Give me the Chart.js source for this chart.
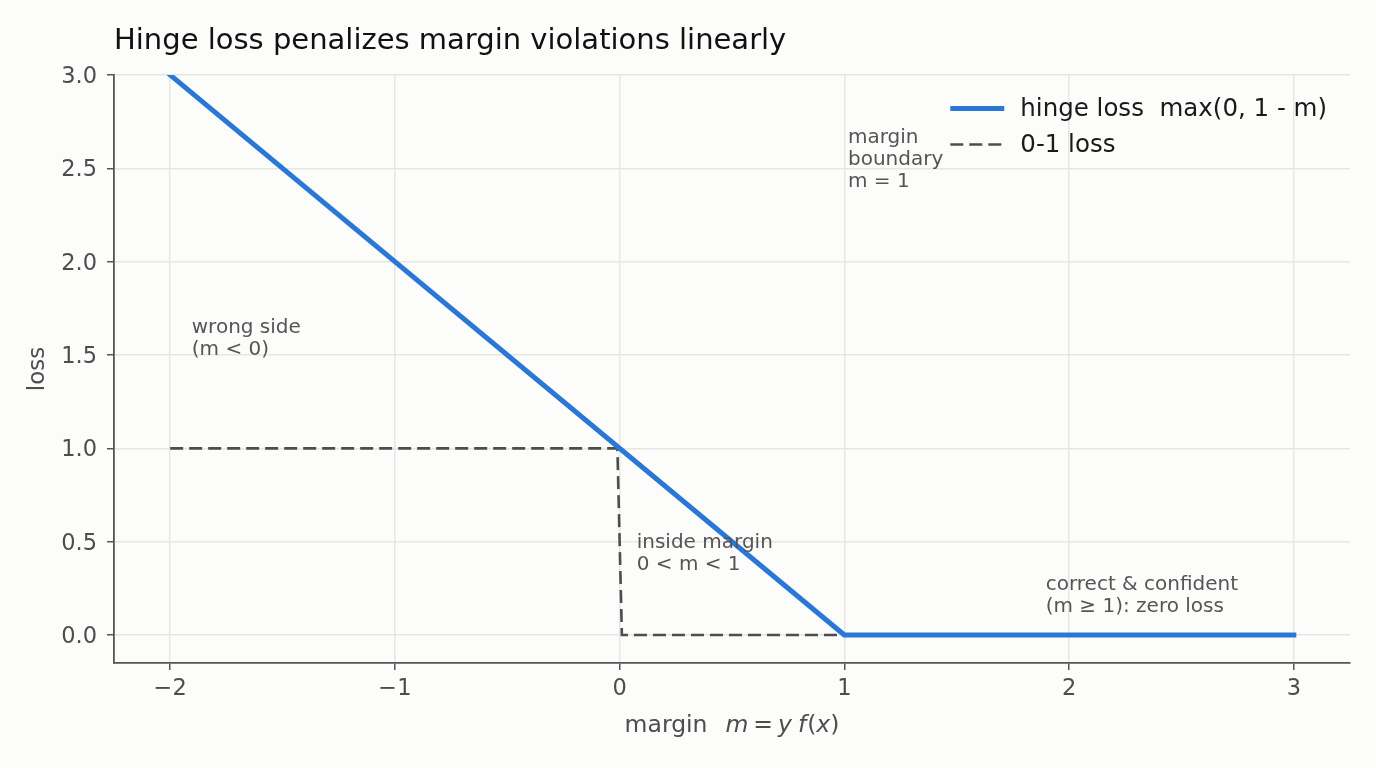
<!DOCTYPE html>
<html><head><meta charset="utf-8">
<script src="https://cdn.jsdelivr.net/npm/chart.js@4/dist/chart.umd.min.js"></script>
<style>html,body{margin:0;padding:0;background:#fcfcfb;}canvas{display:block}</style>
</head><body>
<canvas id="c" width="1376" height="768"></canvas>
<script>
const chartTitle = 'Hinge loss penalizes margin violations linearly';
const seriesLabels = ['hinge loss  max(0, 1 - m)', '0-1 loss'];
const hingeMargin = [-2, 1, 3];
const hingeLoss = [3, 0, 0];
const zeroOneMargin = [-2, -0.01, 0.01, 3];
const zeroOneLoss = [1, 1, 0, 0];
const xTickValues = [-2, -1, 0, 1, 2, 3];
const xTickLabels = ['\u22122', '\u22121', '0', '1', '2', '3'];
const yTickValues = [0, 0.5, 1, 1.5, 2, 2.5, 3];
const yTickLabels = ['0.0', '0.5', '1.0', '1.5', '2.0', '2.5', '3.0'];
const xAxisTitle = 'margin';
const yAxisTitle = 'loss';
const noteX = [-1.904, 0.076, 1.896, 1.016];
const noteY = [1.472, 0.32, 0.097, 2.372];
const noteText = [
  ['wrong side', '(m < 0)'],
  ['inside margin', '0 < m < 1'],
  ['correct & confident', '(m \u2265 1): zero loss'],
  ['margin', 'boundary', 'm = 1']
];

const FONT = "'DejaVu Sans', sans-serif";

const pts = (xs, ys) => xs.map((x, i) => ({x: x, y: ys[i]}));

const overlay = {
  id: 'overlay',
  beforeDraw(chart) {
    const c = chart.ctx;
    c.save();
    c.fillStyle = '#fcfcfb';
    c.fillRect(0, 0, chart.width, chart.height);
    c.restore();
  },
  afterDraw(chart) {
    const c = chart.ctx;
    const a = chart.chartArea;
    const xs = chart.scales.x, ys = chart.scales.y;
    c.save();
    // title
    c.fillStyle = '#111111';
    c.font = '29px ' + FONT;
    c.textAlign = 'left';
    c.textBaseline = 'alphabetic';
    c.fillText(chartTitle, a.left, 49);

    // y axis title
    c.save();
    c.fillStyle = '#4d4d4d';
    c.font = '23px ' + FONT;
    c.translate(44, (a.top + a.bottom) / 2);
    c.rotate(-Math.PI / 2);
    c.textAlign = 'center';
    c.textBaseline = 'alphabetic';
    c.fillText(yAxisTitle, 0, 0);
    c.restore();

    // x axis title (mixed normal / italic)
    const up = '23.5px ' + FONT, it = 'oblique 23.5px ' + FONT;
    const parts = [
      [xAxisTitle, up, 0], [' ', up, 0], [' ', up, 3],
      ['m', it, 0], ['=', up, 5], ['y', it, 5], ['f', it, 6], ['(', up, 1], ['x', it, 0], [')', up, 0]
    ];
    let total = 0;
    parts.forEach(p => { c.font = p[1]; total += p[2] + c.measureText(p[0]).width; });
    let px = (a.left + a.right) / 2 - total / 2;
    c.fillStyle = '#4d4d4d';
    c.textAlign = 'left';
    c.textBaseline = 'alphabetic';
    parts.forEach(p => { c.font = p[1]; px += p[2]; c.fillText(p[0], px, 732); px += c.measureText(p[0]).width; });

    // annotations
    c.fillStyle = '#555555';
    c.font = '20px ' + FONT;
    c.textAlign = 'left';
    noteText.forEach((lines, k) => {
      const x = xs.getPixelForValue(noteX[k]);
      const yb = ys.getPixelForValue(noteY[k]);
      c.textBaseline = 'bottom';
      for (let i = 0; i < lines.length; i++) {
        c.fillText(lines[i], x, yb - (lines.length - 1 - i) * 22.3);
      }
    });

    // legend
    c.font = '24.5px ' + FONT;
    let maxW = 0;
    chart.data.datasets.forEach(d => { maxW = Math.max(maxW, c.measureText(d.label).width); });
    const textX = a.right - 23 - maxW;
    chart.data.datasets.forEach((d, i) => {
      const yy = a.top + 33.5 + i * 36;
      c.save();
      c.strokeStyle = d.borderColor;
      c.lineWidth = d.borderWidth;
      c.setLineDash(d.borderDash || []);
      c.lineCap = 'butt';
      c.beginPath();
      c.moveTo(textX - 70, yy);
      c.lineTo(textX - 16, yy);
      c.stroke();
      c.restore();
      c.fillStyle = '#1a1a1a';
      c.textBaseline = 'middle';
      c.fillText(d.label, textX, yy + 1);
    });
    c.restore();
  }
};

new Chart(document.getElementById('c'), {
  type: 'scatter',
  data: {
    datasets: [
      {
        label: seriesLabels[0],
        data: pts(hingeMargin, hingeLoss),
        showLine: true,
        borderColor: '#2a78d6',
        backgroundColor: '#2a78d6',
        borderWidth: 5,
        borderCapStyle: 'square',
        borderJoinStyle: 'round',
        pointRadius: 0,
        pointHoverRadius: 0,
        tension: 0,
        clip: 0,
        order: 0
      },
      {
        label: seriesLabels[1],
        data: pts(zeroOneMargin, zeroOneLoss),
        showLine: true,
        borderColor: '#4d4d4d',
        backgroundColor: '#4d4d4d',
        borderWidth: 2.6,
        borderDash: [13, 6],
        borderCapStyle: 'butt',
        pointRadius: 0,
        pointHoverRadius: 0,
        tension: 0,
        clip: 0,
        order: 1
      }
    ]
  },
  options: {
    responsive: false,
    animation: false,
    devicePixelRatio: 1,
    layout: {padding: {top: 75, right: 26, left: 0, bottom: 0}},
    plugins: {legend: {display: false}, title: {display: false}, tooltip: {enabled: false}},
    events: [],
    scales: {
      x: {
        type: 'linear',
        min: -2.25, max: 3.25,
        afterBuildTicks: s => { s.ticks = xTickValues.map(v => ({value: v})); },
        afterFit: s => { s.height = 105; },
        ticks: {
          callback: (v, i) => xTickLabels[i],
          color: '#4d4d4d',
          font: {family: FONT, size: 22.5, lineHeight: 1.2},
          padding: 6,
          maxRotation: 0,
          autoSkip: false
        },
        grid: {color: '#e6e6e6', lineWidth: 1.5, tickColor: '#555555', tickLength: 7, tickWidth: 1.5, drawTicks: true},
        border: {display: true, color: '#555555', width: 1.8}
      },
      y: {
        type: 'linear',
        min: -0.15, max: 3.0,
        afterBuildTicks: s => { s.ticks = yTickValues.map(v => ({value: v})); },
        afterFit: s => { s.width = 114; },
        ticks: {
          callback: (v, i) => yTickLabels[i],
          color: '#4d4d4d',
          font: {family: FONT, size: 22.5, lineHeight: 1.2},
          padding: 10,
          labelOffset: 2,
          autoSkip: false
        },
        grid: {color: '#e6e6e6', lineWidth: 1.5, tickColor: '#555555', tickLength: 7, tickWidth: 1.5, drawTicks: true},
        border: {display: true, color: '#555555', width: 1.8}
      }
    }
  },
  plugins: [overlay]
});
</script>
</body></html>
